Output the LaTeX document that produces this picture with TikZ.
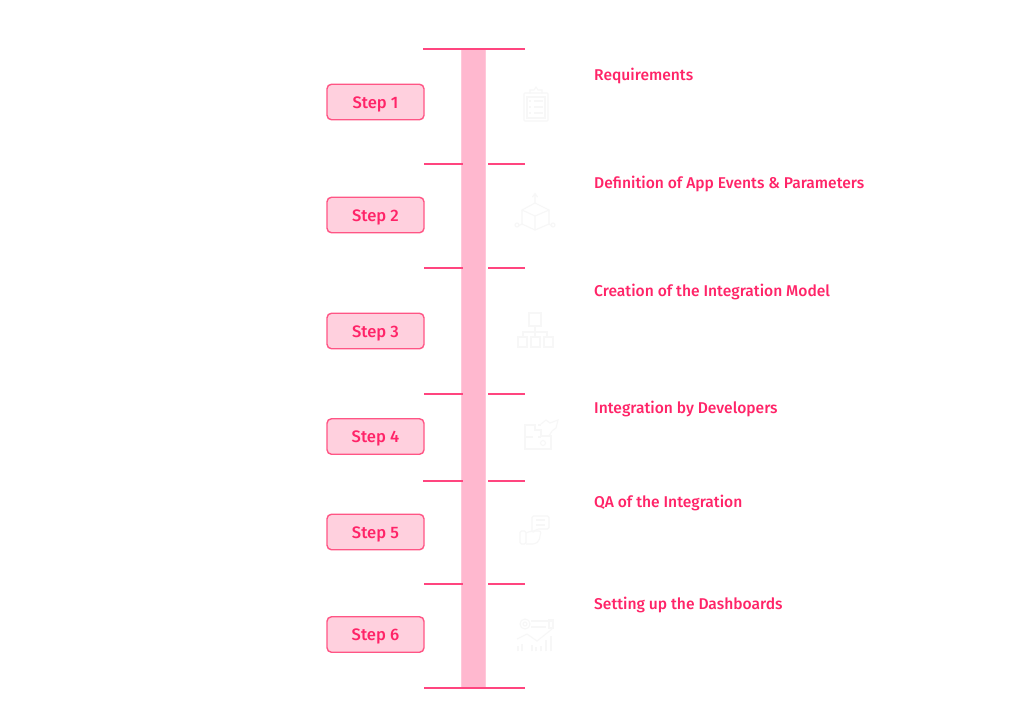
\documentclass[tikz,border=0pt]{standalone}
\usepackage{fontspec}
\setmainfont{Liberation Sans}
\newfontfamily\lab{Fira Sans Medium}
\definecolor{pk}{HTML}{FF2468}
\definecolor{pkl}{HTML}{FF5585}
\definecolor{pkb}{HTML}{FFD0DE}
\definecolor{bar}{HTML}{FFB8CF}
\definecolor{barl}{HTML}{FFC8D9}
\definecolor{ic}{HTML}{F7F7F7}
\tikzset{
  stepbox/.style={draw=pkl,fill=pkb,line width=1.4pt,rounded corners=4.5pt,minimum width=97pt,minimum height=35.5pt,inner sep=0pt,text=pk,text height=12pt,text depth=0pt,font=\lab\fontsize{16.6}{18}\selectfont},
  lab/.style={anchor=west,inner sep=0pt,text=pk,font=\lab\fontsize{15.6}{18}\selectfont},
  tick/.style={draw=pk!85!white,line width=1.15pt},
  icon/.style={draw=ic,line width=1.1pt,fill=none}
}
\begin{document}
\begin{tikzpicture}[x=1pt,y=-1pt]
\useasboundingbox (0,0) rectangle (1024,724);
\fill[white] (0,0) rectangle (1024,724);
\node[draw=barl,fill=bar,line width=.8pt,minimum width=24pt,minimum height=639pt,inner sep=0pt] (bar) at (473.7,368.5) {};
% ticks
\coordinate (t0a) at (423,49); \coordinate (t0b) at (525,49);
\draw[tick] (t0a) -- (t0b);
\coordinate (t7a) at (424,688); \coordinate (t7b) at (525,688);
\draw[tick] (t7a) -- (t7b);
\foreach \n/\y/\xa in {1/164/424,2/268/424,3/394/424,4/481/423,5/584/424}{
  \coordinate (l\n a) at (\xa,\y); \coordinate (l\n b) at (463,\y);
  \coordinate (r\n a) at (488,\y); \coordinate (r\n b) at (525,\y);
  \draw[tick] (l\n a) -- (l\n b);
  \draw[tick] (r\n a) -- (r\n b);
}
% step boxes
\node[stepbox] (s1) at (375.5,102) {Step 1};
\node[stepbox] (s2) at (375.5,215) {Step 2};
\node[stepbox] (s3) at (375.5,331) {Step 3};
\node[stepbox] (s4) at (375.5,436.5) {Step 4};
\node[stepbox] (s5) at (375.5,532) {Step 5};
\node[stepbox] (s6) at (375.5,634.5) {Step 6};
% labels
\node[lab] (d1) at (594,75.5) {Requirements};
\node[lab] (d2) at (594,183.5) {Definition of App Events \& Parameters};
\node[lab] (d3) at (594,292) {Creation of the Integration Model};
\node[lab] (d4) at (594,408.5) {Integration by Developers};
\node[lab] (d5) at (594,502.5) {QA of the Integration};
\node[lab] (d6) at (594,604.5) {Setting up the Dashboards};
% icon 1 clipboard
\begin{scope}[icon]
\draw[rounded corners=1pt] (524,93) rectangle (548,121);
\draw (530,93) -- (530,90) -- (534,90) -- (536,87) -- (538,90) -- (542,90) -- (542,93);
\draw (527,97) rectangle (545,118);
\draw (534,101) -- (543,101) (534,107) -- (543,107) (534,113) -- (543,113) (529,101) -- (531,101) (529,107) -- (531,107) (529,113) -- (531,113);
\end{scope}
% icon 2 cube
\begin{scope}[icon]
\draw (535,203) -- (549,210) -- (549,224) -- (535,230) -- (522,224) -- (522,210) -- cycle;
\draw (522,210) -- (535,216) -- (549,210) (535,216) -- (535,230);
\draw (535,203) -- (535,195) (532.5,197) -- (535,193.5) -- (537.5,197);
\draw (522,224) -- (518,226) (549,224) -- (552,226);
\draw (517,225) circle (2pt) (553,225) circle (2pt);
\end{scope}
% icon 3 hierarchy
\begin{scope}[icon]
\draw (529,313) rectangle (541,326);
\draw (535,326) -- (535,336) (523,336) -- (523,332) -- (547,332) -- (547,336);
\draw (518,337) rectangle (527,347) (531,337) rectangle (540,347) (544,337) rectangle (553,347);
\end{scope}
% icon 4 puzzle
\begin{scope}[icon]
\draw (525,425) -- (535,425) -- (535,430) -- (541,430) -- (541,436) -- (551,436) -- (551,449) -- (525,449) -- cycle;
\draw (525,437) -- (533,437) (538,437) -- (541,437) (538,425) -- (541,425);
\draw (541,424) -- (546,420) -- (550,423) -- (558,420) -- (556,428) -- (552,431) -- (549,436);
\draw (543,443) circle (2.5pt);
\end{scope}
% icon 5 hand & chat
\begin{scope}[icon]
\draw[rounded corners=1.5pt] (532,516) -- (549,516) -- (549,529) -- (537,529) -- (532,533) -- cycle;
\draw (536,520) -- (545,520) (536,525) -- (545,525);
\draw[rounded corners=1.5pt] (520,531) rectangle (526,544);
\draw[rounded corners=2pt] (526,533) -- (531,531) -- (541,531) -- (539,541) -- (535,544) -- (526,544);
\end{scope}
% icon 6 dashboard
\begin{scope}[icon]
\draw (525,624) circle (5pt) (525,624) circle (2pt);
\draw (531,621) -- (552,621) (531,627) -- (546,627);
\draw (549,620) rectangle (553,628);
\draw (517,639) -- (527,634) -- (537,641) -- (552,629);
\draw (518,651) -- (518,646) (522,651) -- (522,644) (532,651) -- (532,645) (536,651) -- (536,647) (541,651) -- (541,646) (546,651) -- (546,640) (551,651) -- (551,636);
\end{scope}
\end{tikzpicture}
\end{document}
